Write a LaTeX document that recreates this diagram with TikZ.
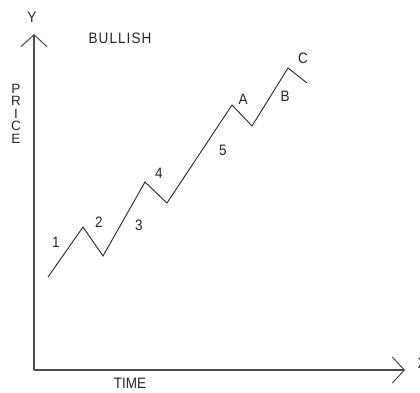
\documentclass[tikz,border=0pt]{standalone}
\usepackage{fontspec}
\setmainfont{Liberation Sans}
\usetikzlibrary{arrows.meta}
\newcommand\tallt[1]{\scalebox{1}[1.12]{#1}}
\begin{document}
\begin{tikzpicture}[x=1pt,y=-1pt,
  lbl/.style={inner sep=0pt,font=\fontsize{13.5}{14}\selectfont,text=black!85},
  axis/.style={draw=black!70,line width=1.3pt,-{Straight Barb[length=12pt,width=26pt,line width=1pt]}},
  wave/.style={draw=black!85,line width=0.9pt,line join=miter}]
\useasboundingbox (0,0) rectangle (420,392);
% axes
\coordinate (o) at (34,370);
\coordinate (ytop) at (34,34);
\coordinate (xend) at (405,370);
\draw[axis] (o) -- (ytop);
\draw[axis] (o) -- (xend);
% axis labels
\node[lbl] (ylab) at (32,17) {\tallt{Y}};
\node[lbl] (xlab) at (422,363) {\tallt{X}};
\node[lbl] (time) at (130,383) {\tallt{TIME}};
\node[lbl] (bull) at (120,38) {\tallt{\addfontfeature{LetterSpace=8}BULLISH}};
\node[lbl] (p) at (16,88.5) {P};
\node[lbl] (r) at (16,101) {R};
\node[lbl] (i) at (16,113.5) {I};
\node[lbl] (c) at (16,126) {C};
\node[lbl] (e) at (16,138.5) {E};
% wave points
\coordinate (w0) at (48,277);
\coordinate (w1) at (83,227);
\coordinate (w2) at (103,256);
\coordinate (w3) at (145,182);
\coordinate (w4) at (167,203);
\coordinate (w5) at (232,105);
\coordinate (wa) at (252,126);
\coordinate (wb) at (288,68);
\coordinate (wc) at (307,83);
\draw[wave] (w0) -- (w1) -- (w2) -- (w3) -- (w4) -- (w5) -- (wa) -- (wb) -- (wc);
% wave labels
\node[lbl] (l1) at (56,242) {\tallt{1}};
\node[lbl] (l2) at (99,222) {\tallt{2}};
\node[lbl] (l3) at (139,225) {\tallt{3}};
\node[lbl] (l4) at (159,173) {\tallt{4}};
\node[lbl] (l5) at (223,150) {\tallt{5}};
\node[lbl] (la) at (243,99) {\tallt{A}};
\node[lbl] (lb) at (285,96) {\tallt{B}};
\node[lbl] (lc) at (303,58) {\tallt{C}};
\end{tikzpicture}
\end{document}
